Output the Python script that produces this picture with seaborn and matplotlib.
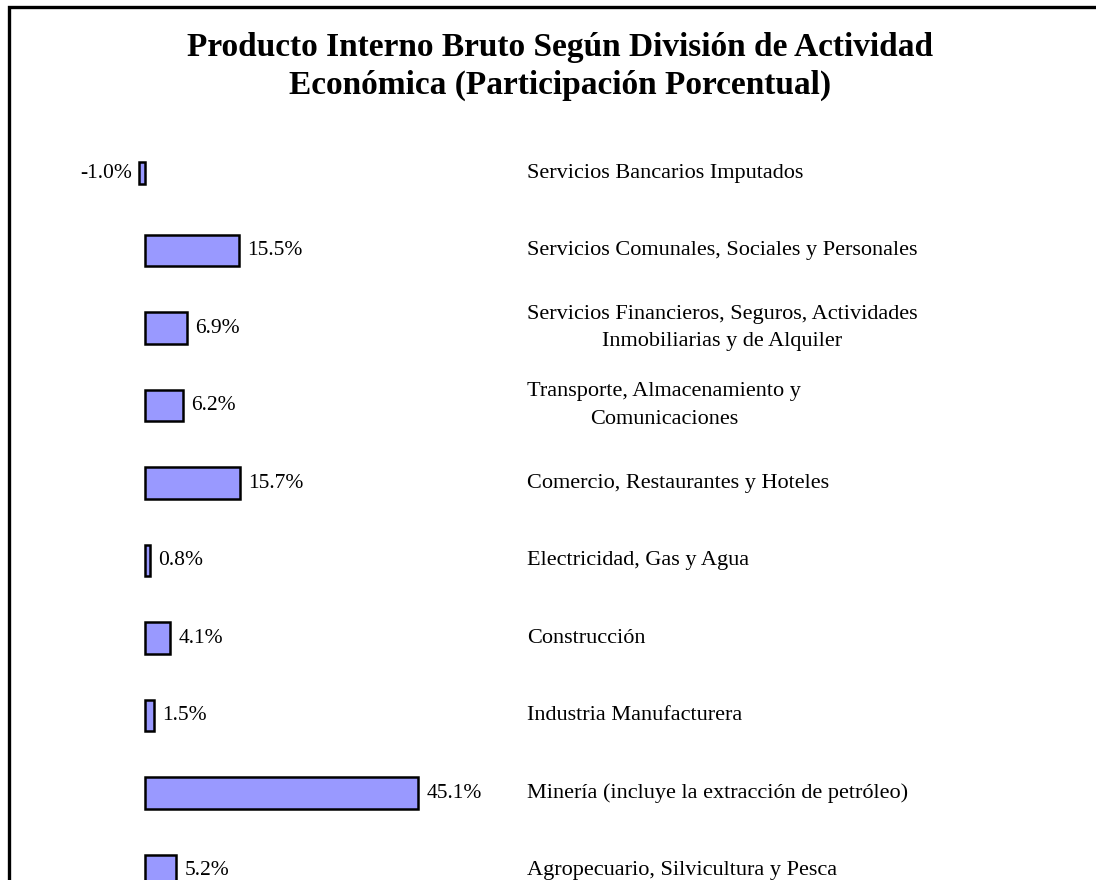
import matplotlib
matplotlib.use("Agg")
import matplotlib.pyplot as plt
import matplotlib.patches as mpatches
import seaborn as sns
import pandas as pd

# Datos (participación porcentual del PIB)
categorias = [
    "Servicios Bancarios Imputados",
    "Servicios Comunales, Sociales y Personales",
    "Servicios Financieros, Seguros, Actividades\nInmobiliarias y de Alquiler",
    "Transporte, Almacenamiento y\nComunicaciones",
    "Comercio, Restaurantes y Hoteles",
    "Electricidad, Gas y Agua",
    "Construcción",
    "Industria Manufacturera",
    "Minería (incluye la extracción de petróleo)",
    "Agropecuario, Silvicultura y Pesca",
]
participacion = [-1.0, 15.5, 6.9, 6.2, 15.7, 0.8, 4.1, 1.5, 45.1, 5.2]

titulo = ("Producto Interno Bruto Según División de Actividad\n"
          "Económica (Participación Porcentual)")

sns.set_style("white")
plt.rcParams["font.family"] = ["Liberation Serif", "DejaVu Serif"]
plt.rcParams["text.color"] = "black"

df = pd.DataFrame({"categoria": categorias, "valor": participacion})

fig = plt.figure(figsize=(10.96, 8.8), dpi=100)
ax = fig.add_axes([0, 0, 1, 1])

sns.barplot(data=df, x="valor", y="categoria", orient="h", ax=ax,
            color="#9999FF", saturation=1, width=0.41,
            edgecolor="black", linewidth=1.8)

# la barra negativa es algo más delgada en el original
barra_neg = ax.patches[0]
centro = barra_neg.get_y() + barra_neg.get_height() / 2
barra_neg.set_height(0.28)
barra_neg.set_y(centro - 0.14)

# escala: cero en x=145 px, ~6.05 px por punto porcentual
px_por_pct = 6.05
ax.set_xlim(-145 / px_por_pct, (1096 - 145) / px_por_pct)
paso = 77.5
ax.set_ylim((880 - 173) / paso, -173 / paso)
ax.axis("off")

# etiquetas de valor
for i, v in enumerate(participacion):
    if v < 0:
        ax.text(v - 1.1, i, f"{v:.1f}%", ha="right", va="center", fontsize=15.5)
    else:
        ax.text(v + 1.4, i, f"{v:.1f}%", ha="left", va="center", fontsize=15.5)

# nombres de las actividades a la derecha
for i, cat in enumerate(categorias):
    ax.text(0.481, i, cat, transform=ax.get_yaxis_transform(),
            ha="left", va="center", multialignment="center",
            fontsize=16, linespacing=1.6)

fig.text(0.511, 1 - 66.5 / 880, titulo, ha="center", va="center",
         fontsize=24, fontweight="bold", linespacing=1.25)

# marco del gráfico (se corta a la derecha y abajo)
marco = mpatches.Rectangle((8.5 / 1096, -0.1), 1.2, 1.1 - 7.5 / 880,
                           transform=fig.transFigure, fill=False,
                           edgecolor="black", linewidth=2.4)
fig.patches.append(marco)

fig.savefig("out.png", dpi=100)
